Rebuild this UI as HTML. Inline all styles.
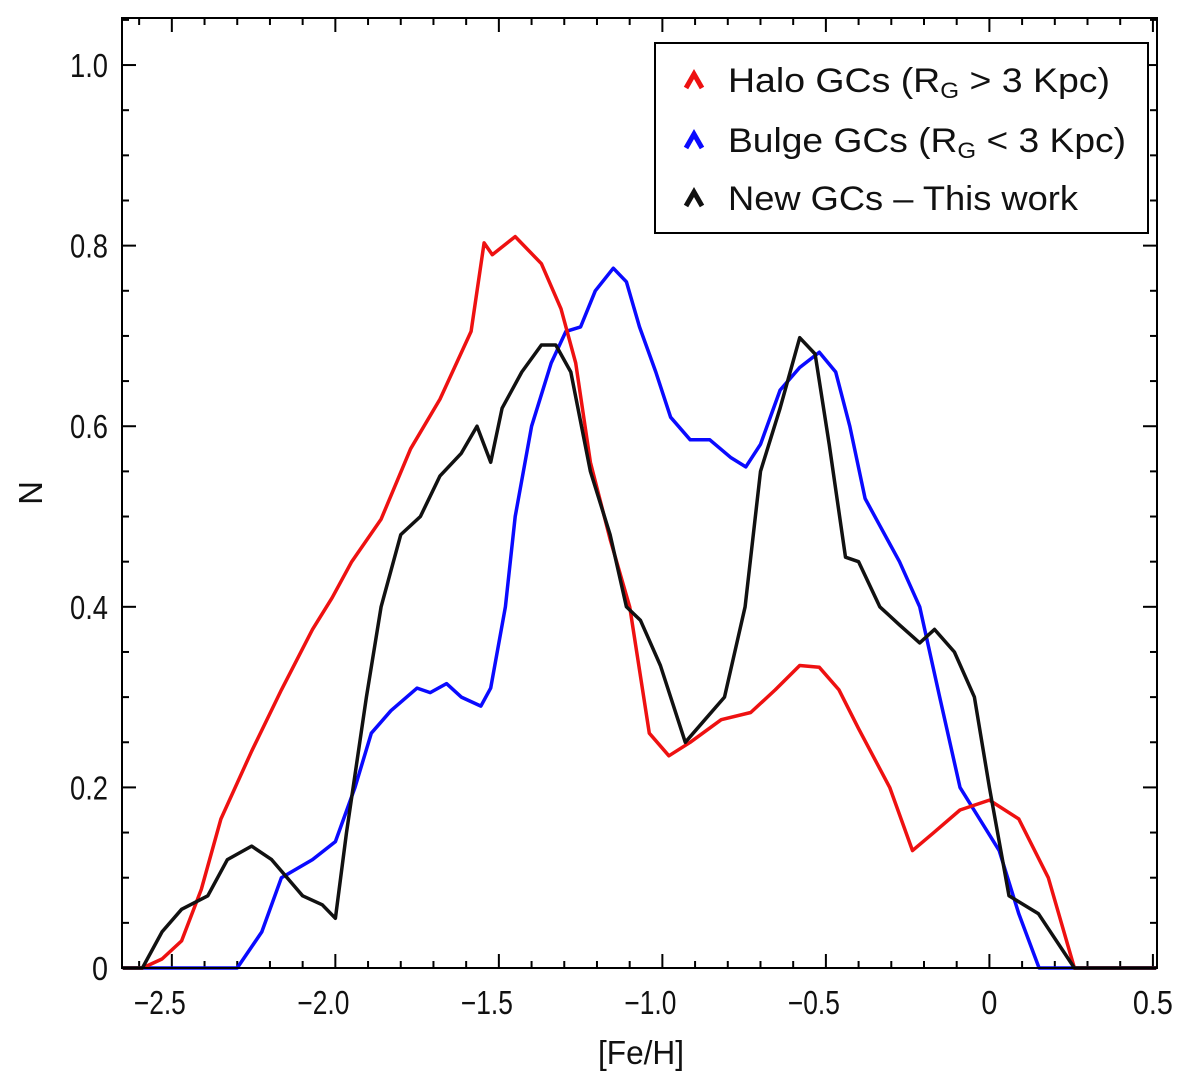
<!DOCTYPE html>
<html><head><meta charset="utf-8"><style>
body{margin:0;background:#fff}
svg text{font-family:"Liberation Sans",sans-serif;fill:#111}
</style></head><body>
<svg id="chart" width="1200" height="1080" xmlns="http://www.w3.org/2000/svg"></svg>
<script>
const xTicks=[-2.5,-2.0,-1.5,-1.0,-0.5,0,0.5];
const xTickLabels=["\u22122.5","\u22122.0","\u22121.5","\u22121.0","\u22120.5","0","0.5"];
const yTicks=[0,0.2,0.4,0.6,0.8,1.0];
const yTickLabels=["0","0.2","0.4","0.6","0.8","1.0"];
const haloX=[-2.65,-2.59,-2.53,-2.47,-2.41,-2.35,-2.256,-2.165,-2.07,-2.01,-1.95,-1.86,-1.77,-1.68,-1.585,-1.545,-1.52,-1.45,-1.37,-1.31,-1.265,-1.22,-1.16,-1.10,-1.04,-0.98,-0.915,-0.82,-0.73,-0.655,-0.58,-0.52,-0.46,-0.40,-0.305,-0.235,-0.17,-0.09,0,0.09,0.18,0.26,0.51];
const haloY=[0,0,0.01,0.03,0.087,0.165,0.24,0.308,0.375,0.41,0.45,0.497,0.575,0.63,0.705,0.803,0.79,0.81,0.78,0.73,0.67,0.56,0.475,0.4,0.26,0.235,0.25,0.275,0.283,0.308,0.335,0.333,0.308,0.265,0.2,0.13,0.15,0.175,0.186,0.165,0.1,0,0];
const bulgeX=[-2.65,-2.3,-2.225,-2.165,-2.07,-2.0,-1.94,-1.89,-1.83,-1.75,-1.71,-1.66,-1.615,-1.555,-1.525,-1.48,-1.45,-1.40,-1.34,-1.295,-1.25,-1.205,-1.15,-1.11,-1.07,-1.02,-0.975,-0.915,-0.855,-0.79,-0.745,-0.70,-0.64,-0.58,-0.52,-0.47,-0.427,-0.38,-0.335,-0.275,-0.213,-0.152,-0.09,-0.03,0.03,0.09,0.152,0.51];
const bulgeY=[0,0,0.04,0.1,0.12,0.14,0.2,0.26,0.285,0.31,0.305,0.315,0.3,0.29,0.31,0.4,0.5,0.6,0.67,0.705,0.71,0.75,0.775,0.76,0.71,0.66,0.61,0.585,0.585,0.565,0.555,0.58,0.64,0.665,0.682,0.66,0.6,0.52,0.49,0.45,0.4,0.3,0.2,0.165,0.13,0.06,0,0];
const newX=[-2.65,-2.59,-2.53,-2.47,-2.39,-2.33,-2.256,-2.195,-2.10,-2.04,-2.0,-1.966,-1.905,-1.86,-1.80,-1.74,-1.68,-1.615,-1.567,-1.525,-1.49,-1.43,-1.37,-1.326,-1.28,-1.22,-1.16,-1.11,-1.067,-1.006,-0.93,-0.87,-0.81,-0.747,-0.70,-0.64,-0.58,-0.533,-0.49,-0.44,-0.40,-0.335,-0.275,-0.213,-0.168,-0.107,-0.046,0,0.06,0.15,0.26,0.51];
const newY=[0,0,0.04,0.065,0.08,0.12,0.135,0.12,0.08,0.07,0.055,0.15,0.3,0.4,0.48,0.5,0.545,0.57,0.6,0.56,0.62,0.66,0.69,0.69,0.66,0.55,0.48,0.4,0.385,0.335,0.25,0.275,0.30,0.4,0.55,0.62,0.698,0.68,0.58,0.455,0.45,0.4,0.38,0.36,0.375,0.35,0.3,0.2,0.08,0.06,0,0];

const L=122,R=1157,T=18,B=968;
const X0=-2.6524,X1=0.5125,Y0=0,Y1=1.0521;
const sx=v=>L+(v-X0)/(X1-X0)*(R-L);
const sy=v=>B-(v-Y0)/(Y1-Y0)*(B-T);
const svg=document.getElementById('chart');
const NS='http://www.w3.org/2000/svg';
function mk(tag,attrs,parent){const e=document.createElementNS(NS,tag);for(const k in attrs)e.setAttribute(k,attrs[k]);(parent||svg).appendChild(e);return e;}

for(let i=-26;i<=5;i++){const v=i/10;const x=sx(v);const maj=(i%5===0);const len=maj?14:7;
 const t=mk('line',{x1:x,x2:x,y1:B,y2:B-len,stroke:'#000','stroke-width':2});
 
 
 const t2=mk('line',{x1:x,x2:x,y1:T,y2:T+len,stroke:'#000','stroke-width':2});
 
 
}
for(let i=1;i<=21;i++){const v=i*0.05;const y=sy(v);const maj=(i%4===0);const len=maj?14:7;
 const t=mk('line',{x1:L,x2:L+len,y1:y,y2:y,stroke:'#000','stroke-width':2});
 
 
 const t2=mk('line',{x1:R,x2:R-len,y1:y,y2:y,stroke:'#000','stroke-width':2});
 
 
}
xTicks.forEach((v,i)=>{const w=v<0?52:(v===0?16:40);
 const t=mk('text',{x:sx(v)-(v<0?12:0)-w/2,y:1014,'font-size':33,textLength:w,lengthAdjust:'spacingAndGlyphs'});t.textContent=xTickLabels[i];
 
 });
yTicks.forEach((v,i)=>{const w=v===0?16:38;
 const t=mk('text',{x:108-w,y:sy(v)+12,'font-size':33,textLength:w,lengthAdjust:'spacingAndGlyphs'});t.textContent=yTickLabels[i];
 
 });

function series(xs,ys,color,name){const pts=xs.map((x,i)=>sx(x).toFixed(1)+','+sy(ys[i]).toFixed(1)).join(' ');
 const p=mk('polyline',{points:pts,fill:'none',stroke:color,'stroke-width':3.5,'stroke-linejoin':'round'});
 
 }
series(bulgeX,bulgeY,'#0a0aff','bulge-gcs-line');
series(haloX,haloY,'#ee1111','halo-gcs-line');
series(newX,newY,'#111','new-gcs-line');

const frame=mk('rect',{x:L,y:T,width:R-L,height:B-T,fill:'none',stroke:'#000','stroke-width':2});


</script>
<svg style="position:absolute;left:0;top:0" width="1200" height="1080">
 <text x="598" y="1064" font-size="33" textLength="86" lengthAdjust="spacingAndGlyphs" style="font-family:'Liberation Sans',sans-serif">[Fe/H]</text>
 <text x="0" y="0" font-size="33" text-anchor="middle" transform="translate(42,493) rotate(-90)" style="font-family:'Liberation Sans',sans-serif">N</text>
 <g style="font-family:'Liberation Sans',sans-serif">
  <rect x="655" y="43" width="493" height="190" fill="#fff" stroke="#000" stroke-width="2"/>
  <g>
   <polyline points="686,88 694,74 702,88" fill="none" stroke="#ee1111" stroke-width="5"/>
   <text x="728" y="92" font-size="34" textLength="382" lengthAdjust="spacingAndGlyphs">Halo GCs (R<tspan font-size="22" dy="6">G</tspan><tspan dy="-6"> &gt; 3 Kpc)</tspan></text>
  </g>
  <g>
   <polyline points="686,148 694,134 702,148" fill="none" stroke="#0a0aff" stroke-width="5"/>
   <text x="728" y="152" font-size="34" textLength="398" lengthAdjust="spacingAndGlyphs">Bulge GCs (R<tspan font-size="22" dy="6">G</tspan><tspan dy="-6"> &lt; 3 Kpc)</tspan></text>
  </g>
  <g>
   <polyline points="686,206 694,192 702,206" fill="none" stroke="#111" stroke-width="5"/>
   <text x="728" y="210" font-size="34" textLength="350" lengthAdjust="spacingAndGlyphs">New GCs – This work</text>
  </g>
 </g>
</svg>
</body></html>
